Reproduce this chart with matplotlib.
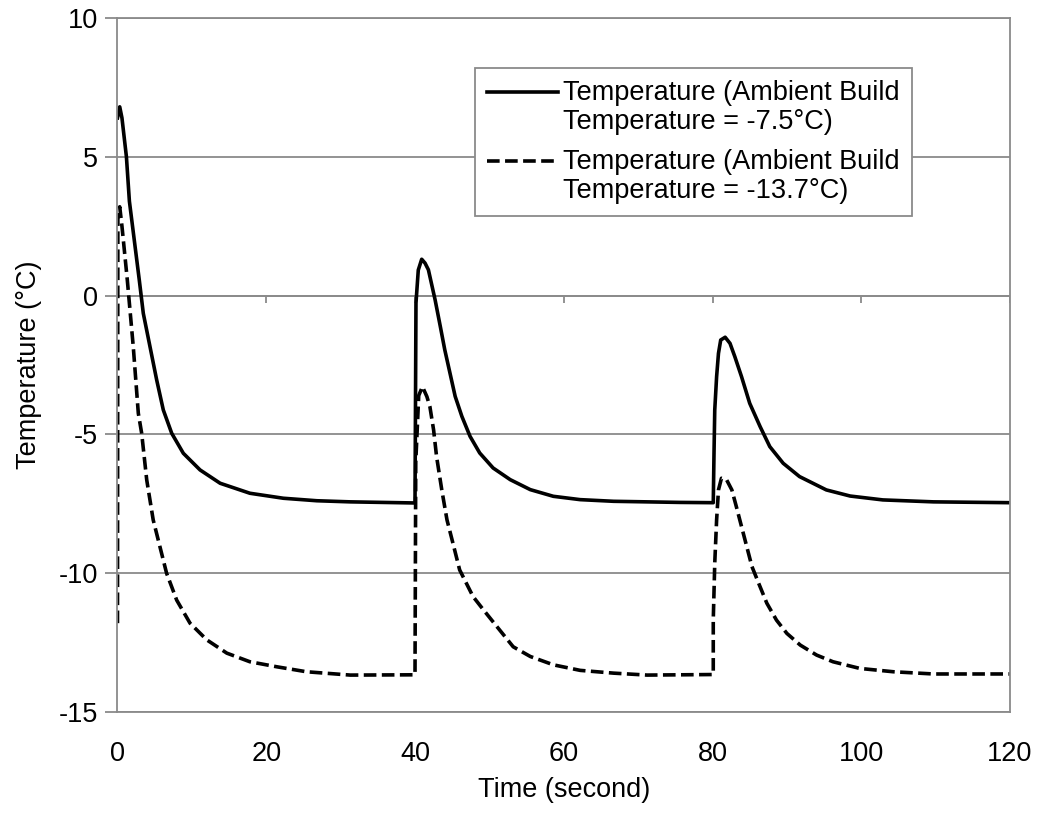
import numpy as np
import matplotlib
matplotlib.use("Agg")
import matplotlib.pyplot as plt
from matplotlib.legend_handler import HandlerLine2D

plt.rcParams['font.family'] = ['Liberation Sans', 'DejaVu Sans']
plt.rcParams['axes.unicode_minus'] = False

# readings (time in s, temperature in degC)
t_a = [0, 0.3, 0.6, 1.2, 1.6, 2.93, 3.47, 4.37, 5.27, 6.16, 7.29, 8.85, 11.1, 13.8, 17.8, 22.3, 26.8, 31.3, 40,
       40.0, 40.13, 40.44, 40.9, 41.35, 41.8, 42.2, 42.7, 43.4, 44.0, 44.7, 45.4, 46.3, 47.4, 48.7,
       50.5, 52.8, 55.5, 58.6, 62.2, 66.7, 75.6, 80.1,
       80.2, 80.3, 80.55, 80.8, 81.1, 81.7, 82.35, 83.0, 83.9, 85.0, 86.4, 87.7, 89.5, 91.7,
       95.3, 98.5, 102.9, 109.7, 120]
temp_a = [6.4, 6.8, 6.4, 5.0, 3.4, 0.56, -0.64, -1.84, -3.04, -4.12, -4.96, -5.68, -6.28, -6.76, -7.12, -7.3, -7.39, -7.43, -7.47,
          -7.47, -0.27, 0.92, 1.31, 1.17, 0.93, 0.45, -0.15, -1.11, -1.95, -2.79, -3.63, -4.35, -5.07, -5.67,
          -6.21, -6.63, -6.99, -7.23, -7.35, -7.41, -7.45, -7.46,
          -5.68, -4.12, -2.92, -2.08, -1.6, -1.5, -1.72, -2.2, -2.92, -3.88, -4.72, -5.44, -6.04, -6.52,
          -7.0, -7.22, -7.36, -7.43, -7.46]

t_b = [0, 0.05, 0.3, 0.6, 1.32, 2.12, 2.8, 3.25, 3.93, 4.8, 5.7, 6.6, 7.96, 9.75, 12.0, 14.7, 17.8, 21.4, 25.4, 31.3, 40,
       40.0, 40.1, 40.5, 41.0, 41.6, 42.0, 42.5, 42.9, 43.6, 44.3, 45.1, 46.0, 46.9, 47.8, 49.2,
       51.0, 53.2, 55.5, 58.6, 62.2, 66.7, 71.2, 80.1,
       80.1, 80.3, 80.55, 80.8, 81.2, 81.9, 82.6, 83.2, 83.9, 84.6, 85.3, 86.2, 87.3, 88.6, 90.0,
       91.8, 94.0, 96.2, 99.8, 104.3, 109.7, 120]
temp_b = [-11.8, 2.8, 3.2, 2.5, 0.56, -1.84, -4.24, -4.96, -6.64, -8.08, -9.04, -10.0, -10.97, -11.8, -12.4, -12.88,
          -13.19, -13.37, -13.55, -13.67, -13.66,
          -13.66, -6.0, -3.6, -3.28, -3.64, -4.0, -4.84, -5.8, -7.0, -8.08, -8.92, -9.88, -10.36, -10.84, -11.32,
          -11.92, -12.65, -13.0, -13.3, -13.5, -13.6, -13.67, -13.65,
          -11.69, -9.64, -8.08, -7.0, -6.58, -6.64, -7.0, -7.6, -8.32, -9.04, -9.76, -10.36, -11.08, -11.69, -12.17,
          -12.59, -12.95, -13.19, -13.43, -13.55, -13.63, -13.63]

x_ticks = [0, 20, 40, 60, 80, 100, 120]
y_ticks = [-15, -10, -5, 0, 5, 10]
labels = ['Temperature (Ambient Build\nTemperature = -7.5\u00b0C)',
          'Temperature (Ambient Build\nTemperature = -13.7\u00b0C)']

grey = '#8a8a8a'
fs = 19.5


class TopHandler(HandlerLine2D):
    # put the legend line next to the first text line
    def create_artists(self, legend, orig_handle, xdescent, ydescent, width, height, fontsize, trans):
        arts = super().create_artists(legend, orig_handle, xdescent, ydescent, width, height, fontsize, trans)
        for a in arts:
            a.set_ydata(np.asarray(a.get_ydata()) + 0.6 * fontsize)
        return arts


fig = plt.figure(figsize=(10.37, 8.14), dpi=100)
ax = fig.add_axes([0.1133, 0.1253, 0.8607, 0.8526])

l1, = ax.plot(t_a, temp_a, color='black', lw=2.6, solid_joinstyle='round')
l2, = ax.plot(t_b, temp_b, color='black', lw=2.6, ls=(0, (3.5, 1.5)))

ax.set_xlim(0, 120)
ax.set_ylim(-15, 10)
ax.set_xticks(x_ticks)
ax.set_yticks(y_ticks)
ax.grid(axis='y', color=grey, lw=1.3)
ax.set_axisbelow(True)
for s in ax.spines.values():
    s.set_color(grey)
    s.set_linewidth(1.3)

# the category axis crosses at 0 with small tick marks there
ax.axhline(0, color=grey, lw=1.3, zorder=0)
ax.vlines(x_ticks, -0.25, 0, color=grey, lw=1.3, zorder=0)

ax.tick_params(axis='x', length=0, pad=21, labelsize=fs)
ax.tick_params(axis='y', length=9, width=1.3, color=grey, pad=5, labelsize=fs)
ax.set_xlabel('Time (second)', fontsize=fs, labelpad=7)
ax.set_ylabel('Temperature (\u00b0C)', fontsize=fs, labelpad=12)

leg = ax.legend([l1, l2], labels, loc='upper left', bbox_to_anchor=(0.4006, 0.928),
                borderaxespad=0, fontsize=fs, handlelength=2.6, handletextpad=0.2,
                labelspacing=0.55, borderpad=0.45, fancybox=False, framealpha=1,
                edgecolor=grey, handler_map={l1: TopHandler(), l2: TopHandler()})
leg.get_frame().set_linewidth(1.3)
for txt in leg.get_texts():
    txt.set_linespacing(1.12)

fig.savefig('out.png', dpi=100)
